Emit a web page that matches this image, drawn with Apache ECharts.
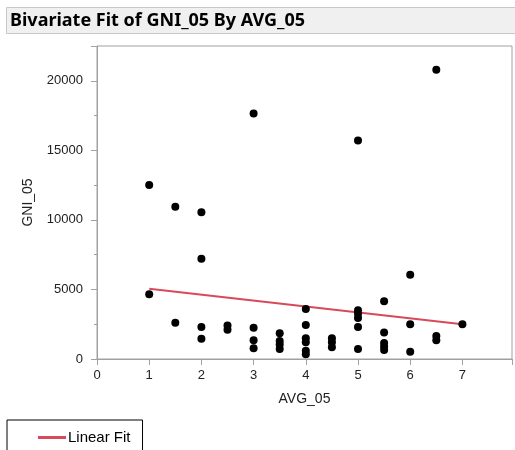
<!DOCTYPE html>
<html>
<head>
<meta charset="utf-8">
<script src="https://cdn.jsdelivr.net/npm/echarts@6/dist/echarts.min.js"></script>
<style>html,body{margin:0;padding:0;background:#fff}#c{width:515px;height:450px}</style>
</head>
<body>
<div id="c"></div>
<script>
// Data
const avg05 = [1,1, 1.5,1.5, 2,2,2,2, 2.5,2.5, 3,3,3,3, 3.5,3.5,3.5,3.5,
  4,4,4,4,4,4, 4.5,4.5,4.5, 5,5,5,5,5,5, 5.5,5.5,5.5,5.5,5.5, 6,6,6, 6.5,6.5,6.5, 7];
const gni05 = [12500,4650, 10950,2600, 10550,7200,2300,1450, 2400,2100, 17650,2250,1350,780, 1850,1300,1050,720,
  3600,2450,1500,1200,600,350, 1500,1200,850, 15700,3500,3250,2950,2300,720, 4150,1900,1150,900,650, 6050,2500,520, 20800,1650,1350, 2500];
const fitX = [1, 7];
const fitY = [5050, 2500];
const xTicks = [0,1,2,3,4,5,6,7];
const yTicks = [0,5000,10000,15000,20000];

const points = avg05.map((x,i)=>[x, gni05[i]]);
const fit = fitX.map((x,i)=>[x, fitY[i]]);

const chart = echarts.init(document.getElementById('c'), null, {renderer:'canvas'});
const lblFont = {fontFamily:'Liberation Sans, Arial, sans-serif', fontSize:13, color:'#222'};
const nameFont = {fontFamily:'Liberation Sans, Arial, sans-serif', fontSize:14, color:'#222'};
chart.setOption({
  animation:false,
  backgroundColor:'#fff',
  graphic:[
    {type:'rect', shape:{x:6.5,y:7.5,width:520,height:26}, style:{fill:'#f0f0f0', stroke:'#c8c8c8', lineWidth:1}, z:0},
    {type:'text', left:10, top:12, style:{text:'Bivariate Fit of GNI_05 By AVG_05', font:'bold 18px "Noto Sans", Arial, sans-serif', fill:'#000'}, z:1}
  ],
  grid:{left:97, top:46, right:1, bottom:91, show:true, borderColor:'#a0a0a0', borderWidth:1, backgroundColor:'#fff'},
  xAxis:{
    type:'value', min:0, max:7.95, interval:1,
    name:'AVG_05', nameLocation:'middle', nameGap:33, nameTextStyle:nameFont,
    axisLine:{show:true, onZero:false, lineStyle:{color:'#a0a0a0'}},
    axisTick:{show:true, length:6, lineStyle:{color:'#a0a0a0'}},
    axisLabel:Object.assign({margin:10, formatter:v=>xTicks.includes(v)?String(v):''}, lblFont),
    splitLine:{show:false}
  },
  yAxis:{
    type:'value', min:0, max:22500, interval:5000,
    name:'GNI_05', nameLocation:'middle', nameGap:62, nameTextStyle:nameFont,
    axisLine:{show:true, onZero:false, lineStyle:{color:'#a0a0a0'}},
    axisTick:{show:true, length:6, lineStyle:{color:'#a0a0a0'}},
    minorTick:{show:true, splitNumber:2, length:3, lineStyle:{color:'#a0a0a0'}},
    axisLabel:Object.assign({margin:14, formatter:v=>yTicks.includes(v)?String(v):''}, lblFont),
    splitLine:{show:false}
  },
  legend:{
    show:true, left:7, top:420, orient:'horizontal',
    data:[{name:'Linear Fit', icon:'rect'}],
    itemWidth:28, itemHeight:3, itemGap:0,
    padding:[10,12,20,31],
    borderColor:'#000', borderWidth:1,
    textStyle:{fontFamily:'Liberation Sans, Arial, sans-serif', fontSize:15, color:'#000', padding:[0,0,0,-3]}
  },
  series:[
    {type:'line', name:'Linear Fit', data:fit, symbol:'none', lineStyle:{color:'#d64a5b', width:2}, itemStyle:{color:'#d64a5b'}, z:2},
    {type:'scatter', name:'pts', data:points, symbol:'circle', symbolSize:8, itemStyle:{color:'#000', opacity:1}, z:3}
  ]
});
</script>
</body>
</html>
